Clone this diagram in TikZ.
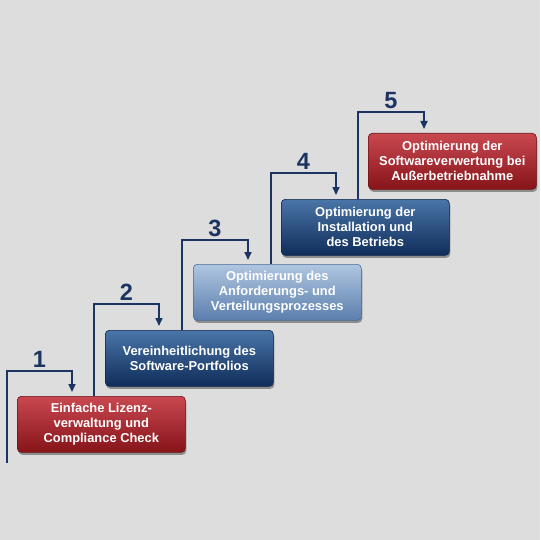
\documentclass[tikz,border=0pt]{standalone}
\usepackage{fontspec}
\setmainfont{Liberation Sans}
\usetikzlibrary{arrows.meta,shadows,calc}
\definecolor{bgc}{HTML}{DDDDDD}
\definecolor{navy}{HTML}{1C3461}
\definecolor{redT}{HTML}{C94850}
\definecolor{redB}{HTML}{861419}
\definecolor{redE}{HTML}{6E1014}
\definecolor{dblT}{HTML}{4A75A8}
\definecolor{dblB}{HTML}{0F2D5A}
\definecolor{dblE}{HTML}{0C2448}
\definecolor{lblT}{HTML}{B0C6E0}
\definecolor{lblB}{HTML}{5A7EAD}
\definecolor{lblE}{HTML}{4A6C98}
\tikzset{
  stepbox/.style={anchor=north west, minimum width=168pt, minimum height=56pt,
    rounded corners=4pt, text=white, align=center, line width=.6pt,
    font=\bfseries\fontsize{12.9}{15}\selectfont,
    drop shadow={shadow xshift=1pt, shadow yshift=-2.5pt, opacity=.55, fill=black!70}},
  redbox/.style={stepbox, top color=redT, bottom color=redB, draw=redE},
  darkbox/.style={stepbox, top color=dblT, bottom color=dblB, draw=dblE},
  lightbox/.style={stepbox, top color=lblT, bottom color=lblB, draw=lblE},
  conn/.style={draw=navy, line width=1.6pt, -{Triangle[length=8pt,width=7pt]}, shorten >=4pt},
  num/.style={text=navy, font=\bfseries\fontsize{23.5}{24}\selectfont, inner sep=0pt}
}
\begin{document}
\begin{tikzpicture}[x=1pt,y=-1pt]
\fill[bgc] (0,0) rectangle (540,540);
\useasboundingbox (0,0) rectangle (540,540);

\node[redbox]   (b1) at (17,396)  {Einfache Lizenz-\\verwaltung und\\Compliance Check};
\node[darkbox]  (b2) at (105,330) {Vereinheitlichung des\\Software-Portfolios};
\node[lightbox] (b3) at (193,264) {Optimierung des\\Anforderungs- und\\Verteilungsprozesses};
\node[darkbox]  (b4) at (281,199) {Optimierung der\\Installation und\\des Betriebs};
\node[redbox]   (b5) at (368,133) {Optimierung der\\Softwareverwertung bei\\Außerbetriebnahme};

\coordinate (s1) at (7,463);
\coordinate (c1) at (7,371);   \coordinate (d1) at (72,371);
\coordinate (c2) at (94,304);  \coordinate (d2) at (159,304);
\coordinate (c3) at (182,240); \coordinate (d3) at (248,240);
\coordinate (c4) at (271,173); \coordinate (d4) at (336,173);
\coordinate (c5) at (358,112); \coordinate (d5) at (424,112);

\draw[conn] (s1) -- (c1) -- (d1) -- (d1 |- b1.north);
\draw[conn] (c2 |- b1.north) -- (c2) -- (d2) -- (d2 |- b2.north);
\draw[conn] (c3 |- b2.north) -- (c3) -- (d3) -- (d3 |- b3.north);
\draw[conn] (c4 |- b3.north) -- (c4) -- (d4) -- (d4 |- b4.north);
\draw[conn] (c5 |- b4.north) -- (c5) -- (d5) -- (d5 |- b5.north);

\node[num] (n1) at ($(c1)!.5!(d1)+(0,-11.5)$) {1};
\node[num] (n2) at ($(c2)!.5!(d2)+(0,-11.5)$) {2};
\node[num] (n3) at ($(c3)!.5!(d3)+(0,-11.5)$) {3};
\node[num] (n4) at ($(c4)!.5!(d4)+(0,-11.5)$) {4};
\node[num] (n5) at ($(c5)!.5!(d5)+(0,-11.5)$) {5};
\end{tikzpicture}
\end{document}
